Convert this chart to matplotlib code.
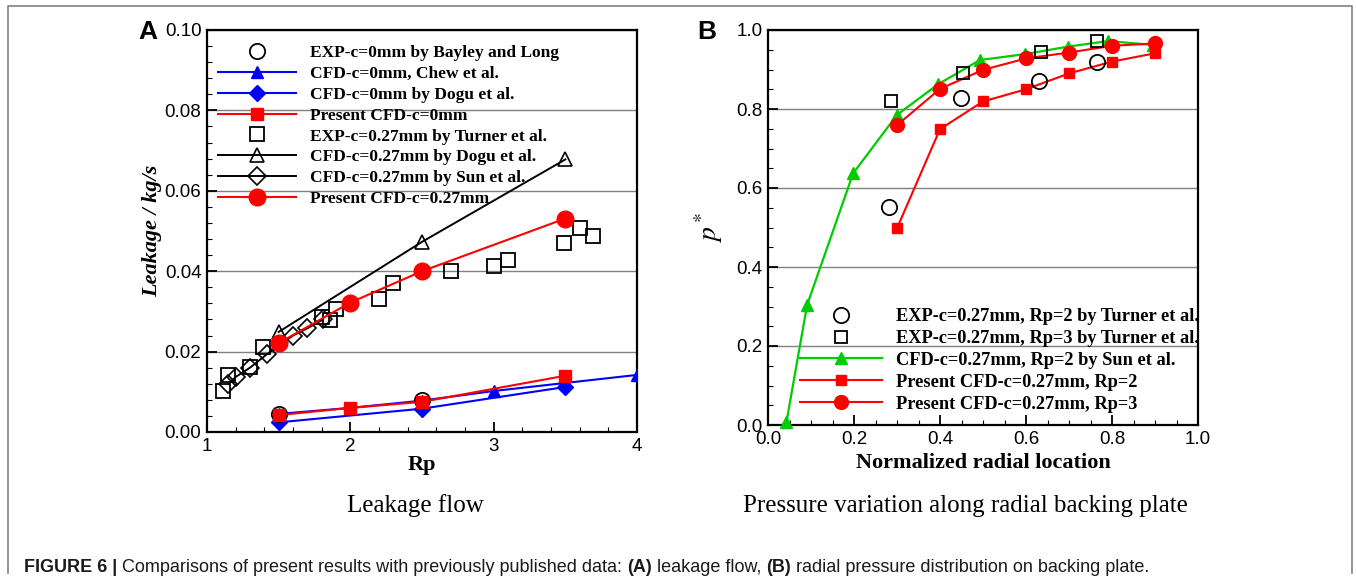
import matplotlib
matplotlib.use("Agg")
import matplotlib.pyplot as plt
from matplotlib.ticker import MultipleLocator
from matplotlib.text import Annotation
from matplotlib.lines import Line2D

plt.rcParams['font.family'] = 'Liberation Sans'
plt.rcParams['mathtext.fontset'] = 'stix'
plt.rcParams['xtick.direction'] = 'in'
plt.rcParams['ytick.direction'] = 'in'

# ---- panel A: leakage flow ----
bayley_rp = [1.5, 2.5]
bayley_q = [0.0045, 0.0080]
chew_rp = [1.5, 2.0, 2.5, 3.0, 4.0]
chew_q = [0.0045, 0.0060, 0.0078, 0.0102, 0.0142]
dogu0_rp = [1.5, 2.5, 3.5]
dogu0_q = [0.0024, 0.0058, 0.0112]
pres0_rp = [1.5, 2.0, 2.5, 3.5]
pres0_q = [0.0042, 0.0060, 0.0075, 0.0140]
turner_rp = [1.11, 1.15, 1.30, 1.39, 1.80, 1.86, 1.90, 2.20, 2.30, 2.70, 3.00, 3.10, 3.49, 3.60, 3.69]
turner_q = [0.0103, 0.0142, 0.0162, 0.0212, 0.0285, 0.0278, 0.0307, 0.0332, 0.0370, 0.0400, 0.0412, 0.0428, 0.0469, 0.0508, 0.0488]
dogu27_rp = [1.5, 2.5, 3.5]
dogu27_q = [0.0249, 0.0473, 0.0678]
sun27_rp = [1.15, 1.20, 1.30, 1.42, 1.60, 1.70, 1.81]
sun27_q = [0.0120, 0.0137, 0.0160, 0.0194, 0.0240, 0.0258, 0.0280]
pres27_rp = [1.5, 2.0, 2.5, 3.5]
pres27_q = [0.0221, 0.0322, 0.0400, 0.0531]

# ---- panel B: pressure along backing plate ----
exp2_r = [0.282, 0.449, 0.631, 0.764]
exp2_p = [0.553, 0.829, 0.871, 0.920]
exp3_r = [0.285, 0.453, 0.634, 0.766]
exp3_p = [0.820, 0.892, 0.945, 0.972]
sun_r = [0.043, 0.091, 0.198, 0.30, 0.396, 0.493, 0.598, 0.698, 0.791, 0.896]
sun_p = [0.008, 0.304, 0.637, 0.785, 0.863, 0.924, 0.939, 0.958, 0.972, 0.962]
pres2_r = [0.30, 0.40, 0.50, 0.60, 0.70, 0.80, 0.90]
pres2_p = [0.498, 0.749, 0.819, 0.850, 0.890, 0.920, 0.941]
pres3_r = [0.30, 0.40, 0.50, 0.60, 0.70, 0.80, 0.90]
pres3_p = [0.759, 0.851, 0.899, 0.928, 0.943, 0.960, 0.966]

W, H = 1356, 583
fig = plt.figure(figsize=(W / 100, H / 100), dpi=100)

serif = 'Liberation Serif'


def style_axes(ax):
    for s in ax.spines.values():
        s.set_linewidth(1.6)
    ax.tick_params(which='major', length=7, width=1.3, labelsize=13.5, top=False, right=False, pad=4)
    ax.tick_params(which='minor', length=3.5, width=0.8, top=False, right=False)
    ax.yaxis.grid(True, which='major', color='#808080', linewidth=1.0)
    ax.set_axisbelow(True)


# panel A
axA = fig.add_axes([207 / W, 1 - 432 / H, 430 / W, 402 / H])
style_axes(axA)
axA.set_xlim(1, 4)
axA.set_ylim(0, 0.10)
axA.xaxis.set_major_locator(MultipleLocator(1))
axA.xaxis.set_minor_locator(MultipleLocator(0.2))
axA.yaxis.set_minor_locator(MultipleLocator(0.004))
axA.set_yticks([0, 0.02, 0.04, 0.06, 0.08, 0.10])
axA.set_yticklabels(['0.00', '0.02', '0.04', '0.06', '0.08', '0.10'])

axA.plot(bayley_rp, bayley_q, ls='none', marker='o', ms=11, mfc='none', mec='black', mew=1.3,
         label='EXP-c=0mm by Bayley and Long', zorder=4)
axA.plot(chew_rp, chew_q, color='blue', lw=1.5, marker='^', ms=9, label='CFD-c=0mm, Chew et al.', zorder=3)
axA.plot(dogu0_rp, dogu0_q, color='blue', lw=1.5, marker='D', ms=8, label='CFD-c=0mm by Dogu et al.', zorder=3)
axA.plot(pres0_rp, pres0_q, color='red', lw=1.5, marker='s', ms=8.5, label='Present CFD-c=0mm', zorder=4)
axA.plot(turner_rp, turner_q, ls='none', marker='s', ms=10, mfc='none', mec='black', mew=1.3,
         label='EXP-c=0.27mm by Turner et al.', zorder=3)
axA.plot(dogu27_rp, dogu27_q, color='black', lw=1.4, marker='^', ms=10, mfc='none', mec='black', mew=1.2,
         label='CFD-c=0.27mm by Dogu et al.', zorder=3)
axA.plot(sun27_rp, sun27_q, color='black', lw=1.4, marker='D', ms=9, mfc='none', mec='black', mew=1.2,
         label='CFD-c=0.27mm by Sun et al.', zorder=3)
axA.plot(pres27_rp, pres27_q, color='red', lw=1.5, marker='o', ms=12, label='Present CFD-c=0.27mm', zorder=5)

axA.legend(loc='upper left', bbox_to_anchor=(11 / 430, 1 - 15 / 402), frameon=False,
           prop={'family': serif, 'weight': 'bold', 'size': 12.5},
           handlelength=4.5, handletextpad=0.8, labelspacing=0.27, borderpad=0, borderaxespad=0,
           numpoints=1)
axA.set_xlabel('Rp', family=serif, weight='bold', size=16, labelpad=0)
axA.set_ylabel('Leakage / kg/s', family=serif, weight='bold', style='italic', size=16, labelpad=2)

# panel B
axB = fig.add_axes([768 / W, 1 - 425 / H, 430 / W, 395 / H])
style_axes(axB)
axB.set_xlim(0, 1)
axB.set_ylim(0, 1)
axB.xaxis.set_major_locator(MultipleLocator(0.2))
axB.xaxis.set_minor_locator(MultipleLocator(0.05))
axB.yaxis.set_major_locator(MultipleLocator(0.2))
axB.yaxis.set_minor_locator(MultipleLocator(0.05))

axB.plot(exp2_r, exp2_p, ls='none', marker='o', ms=11, mfc='none', mec='black', mew=1.3,
         label='EXP-c=0.27mm, Rp=2 by Turner et al.', zorder=4)
axB.plot(exp3_r, exp3_p, ls='none', marker='s', ms=9, mfc='none', mec='black', mew=1.3,
         label='EXP-c=0.27mm, Rp=3 by Turner et al.', zorder=4)
axB.plot(sun_r, sun_p, color='#00cc00', lw=1.6, marker='^', ms=9, label='CFD-c=0.27mm, Rp=2 by Sun et al.',
         zorder=3, clip_on=False)
axB.plot(pres2_r, pres2_p, color='red', lw=1.5, marker='s', ms=7.5, label='Present CFD-c=0.27mm, Rp=2', zorder=3)
axB.plot(pres3_r, pres3_p, color='red', lw=1.5, marker='o', ms=10, label='Present CFD-c=0.27mm, Rp=3', zorder=3)

axB.legend(loc='upper left', bbox_to_anchor=(32 / 430, 1 - 278 / 395), frameon=False,
           prop={'family': serif, 'weight': 'bold', 'size': 13.2},
           handlelength=4.45, handletextpad=0.8, labelspacing=0.27, borderpad=0, borderaxespad=0,
           numpoints=1)
axB.set_xlabel('Normalized radial location', family=serif, weight='bold', size=16, labelpad=4)
axB.set_ylabel(r'$p^*$', size=20, labelpad=8)

# panel letters
fig.text(148 / W, 1 - 32 / H, 'A', ha='center', va='center', weight='bold', size=19)
fig.text(707 / W, 1 - 32 / H, 'B', ha='center', va='center', weight='bold', size=19)

# sub captions
fig.text(415 / W, 1 - 506 / H, 'Leakage flow', ha='center', va='center', family=serif, size=18)
fig.text(965 / W, 1 - 506 / H, 'Pressure variation along radial backing plate', ha='center', va='center',
         family=serif, size=18)

# figure caption: bold and regular pieces chained one after another
pieces = [('FIGURE 6 | ', 'bold'),
          ('Comparisons of present results with previously published data: ', 'normal'),
          ('(A)', 'bold'), (' leakage flow, ', 'normal'),
          ('(B)', 'bold'), (' radial pressure distribution on backing plate.', 'normal')]
prev = fig.text(24 / W, 1 - 576 / H, pieces[0][0], weight=pieces[0][1], size=13, color='#1a1a1a', va='bottom')
for txt, w in pieces[1:]:
    prev = fig.add_artist(Annotation(txt, xy=(1, 0), xycoords=prev, va='bottom',
                                     weight=w, size=13, color='#1a1a1a'))

# outer frame
fig.add_artist(Line2D([8 / W, 8 / W, 1352 / W, 1352 / W], [1 - 573 / H, 1 - 6 / H, 1 - 6 / H, 1 - 573 / H],
                      transform=fig.transFigure, color='#808080', lw=1.2))

fig.savefig('out.png', dpi=100)
